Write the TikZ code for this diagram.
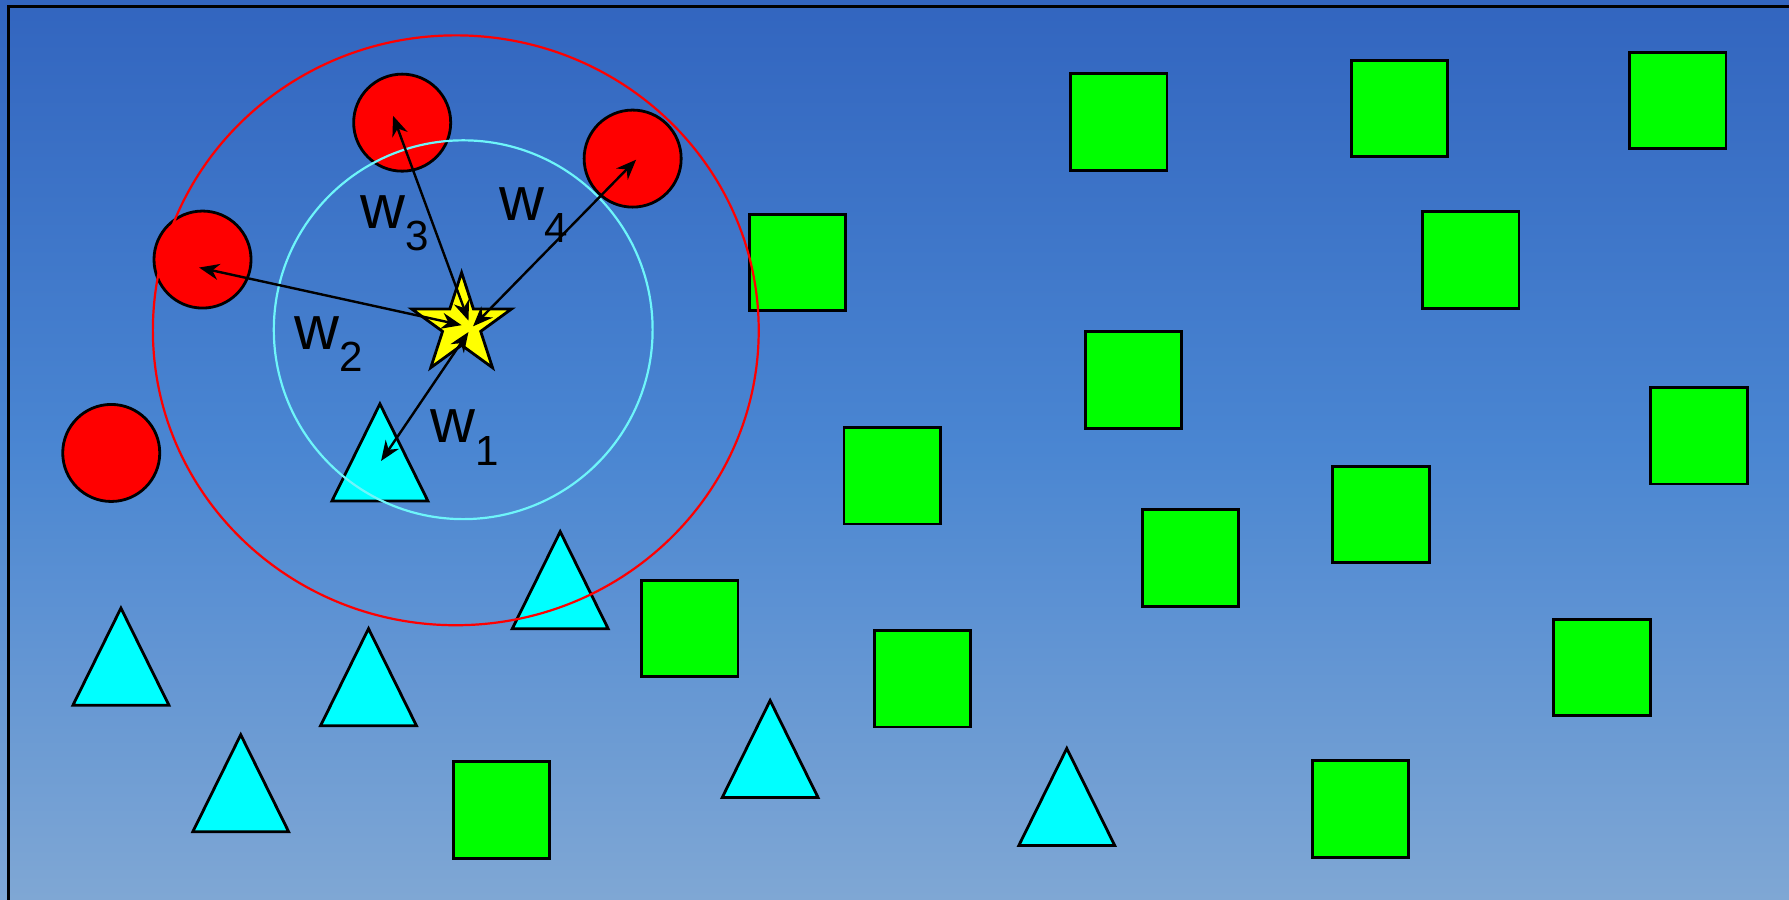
\documentclass[tikz,border=0pt]{standalone}
\usepackage{fontspec}
\setmainfont{Liberation Sans}
\usepackage{tikz}
\usetikzlibrary{arrows.meta, shapes.geometric, calc}

\definecolor{bgtop}{RGB}{50,101,191}
\definecolor{bgmid}{RGB}{74,134,210}
\definecolor{bgbot}{RGB}{127,167,212}
\definecolor{ringcyan}{RGB}{110,245,250}
\definecolor{trifill}{RGB}{0,255,255}
\definecolor{boxfill}{RGB}{0,255,0}
\definecolor{dotfill}{RGB}{255,0,0}
\definecolor{starfill}{RGB}{255,255,0}

\newcommand{\wsub}[1]{w\raisebox{-0.36em}{\fontsize{10.5}{12}\selectfont #1}}

\begin{document}
\begin{tikzpicture}[
        x=0.01cm, y=-0.01cm,
        every node/.style={inner sep=0pt, outer sep=0pt},
        redpt/.style={draw, circle, line width=0.7pt, fill=dotfill, minimum size=0.85cm},
        greenpt/.style={draw, rectangle, line width=0.7pt, fill=boxfill, minimum size=0.845cm},
        cyanpt/.style={draw, isosceles triangle, isosceles triangle stretches, rotate=90, anchor=apex, line width=0.7pt, fill=trifill, minimum width=0.84cm, minimum height=0.85cm},
        query/.style={draw, star, star points=5, star point ratio=2.618, line width=0.7pt, fill=starfill, minimum size=0.92cm},
        ring/.style={line width=0.55pt},
        wline/.style={{Stealth[length=5pt,width=4pt]}-{Stealth[length=5pt,width=4pt]}, line width=0.6pt},
        wlabel/.style={anchor=base west, font=\fontsize{15.5}{18}\selectfont}
    ]
        \useasboundingbox (0,0) rectangle (1568,788);
        \shade[top color=bgtop, bottom color=bgbot, middle color=bgmid] (0,0) rectangle (1568,788);
        \draw[line width=0.7pt] (7.5,800) |- (1600,5.8);

        % Class A (red)
        \node[redpt] (c1) at (352.5,107.5) {};
        \node[redpt] (c2) at (554.5,139) {};
        \node[redpt] (c3) at (177.5,227.5) {};
        \node[redpt] (c4) at (97.5,397) {};

        % Class B (cyan)
        \node[cyanpt] (t1) at (333,354) {};
        \node[cyanpt] (t2) at (491,466) {};
        \node[cyanpt] (t3) at (106,533) {};
        \node[cyanpt] (t4) at (323,551) {};
        \node[cyanpt] (t5) at (211,644) {};
        \node[cyanpt] (t6) at (675,614) {};
        \node[cyanpt] (t7) at (935,656) {};

        % Class C (green)
        \node[greenpt] (s1) at (980.5,107) {};
        \node[greenpt] (s2) at (1226.5,95) {};
        \node[greenpt] (s3) at (1470.5,88) {};
        \node[greenpt] (s4) at (699,230) {};
        \node[greenpt] (s5) at (1289,228) {};
        \node[greenpt] (s6) at (993.5,333) {};
        \node[greenpt] (s7) at (1489,382) {};
        \node[greenpt] (s8) at (782,417) {};
        \node[greenpt] (s9) at (1210.5,451) {};
        \node[greenpt] (s10) at (1043.5,489) {};
        \node[greenpt] (s11) at (604.5,551) {};
        \node[greenpt] (s12) at (808.5,595) {};
        \node[greenpt] (s13) at (1404,585) {};
        \node[greenpt] (s14) at (439.5,710) {};
        \node[greenpt] (s15) at (1192.5,709) {};

        % Query point and neighbourhoods
        \node[query] (q) at (404.6,285) {};
        \draw[ring, dotfill] (399.5,289.5) ellipse [x radius=265.5, y radius=258.5];
        \draw[ring, ringcyan] (406,289) circle [radius=166];

        % Weights
        \draw[wline] ($(q.center)+(6,6)$) -- ($(t1.apex)+(1,50)$);
        \draw[wline] (q.center) -- ($(c3)+(-3,7)$);
        \draw[wline] ($(q.center)+(6,-4)$) -- ($(c1)+(-8,-6)$);
        \draw[wline] ($(q.center)+(10,1)$) -- ($(c2)+(3,1)$);

        \node[wlabel] (l1) at (377,388) {\wsub{1}};
        \node[wlabel] (l2) at (258,306) {\wsub{2}};
        \node[wlabel] (l3) at (316,200) {\wsub{3}};
        \node[wlabel] (l4) at (438,193) {\wsub{4}};
    \end{tikzpicture}
\end{document}
